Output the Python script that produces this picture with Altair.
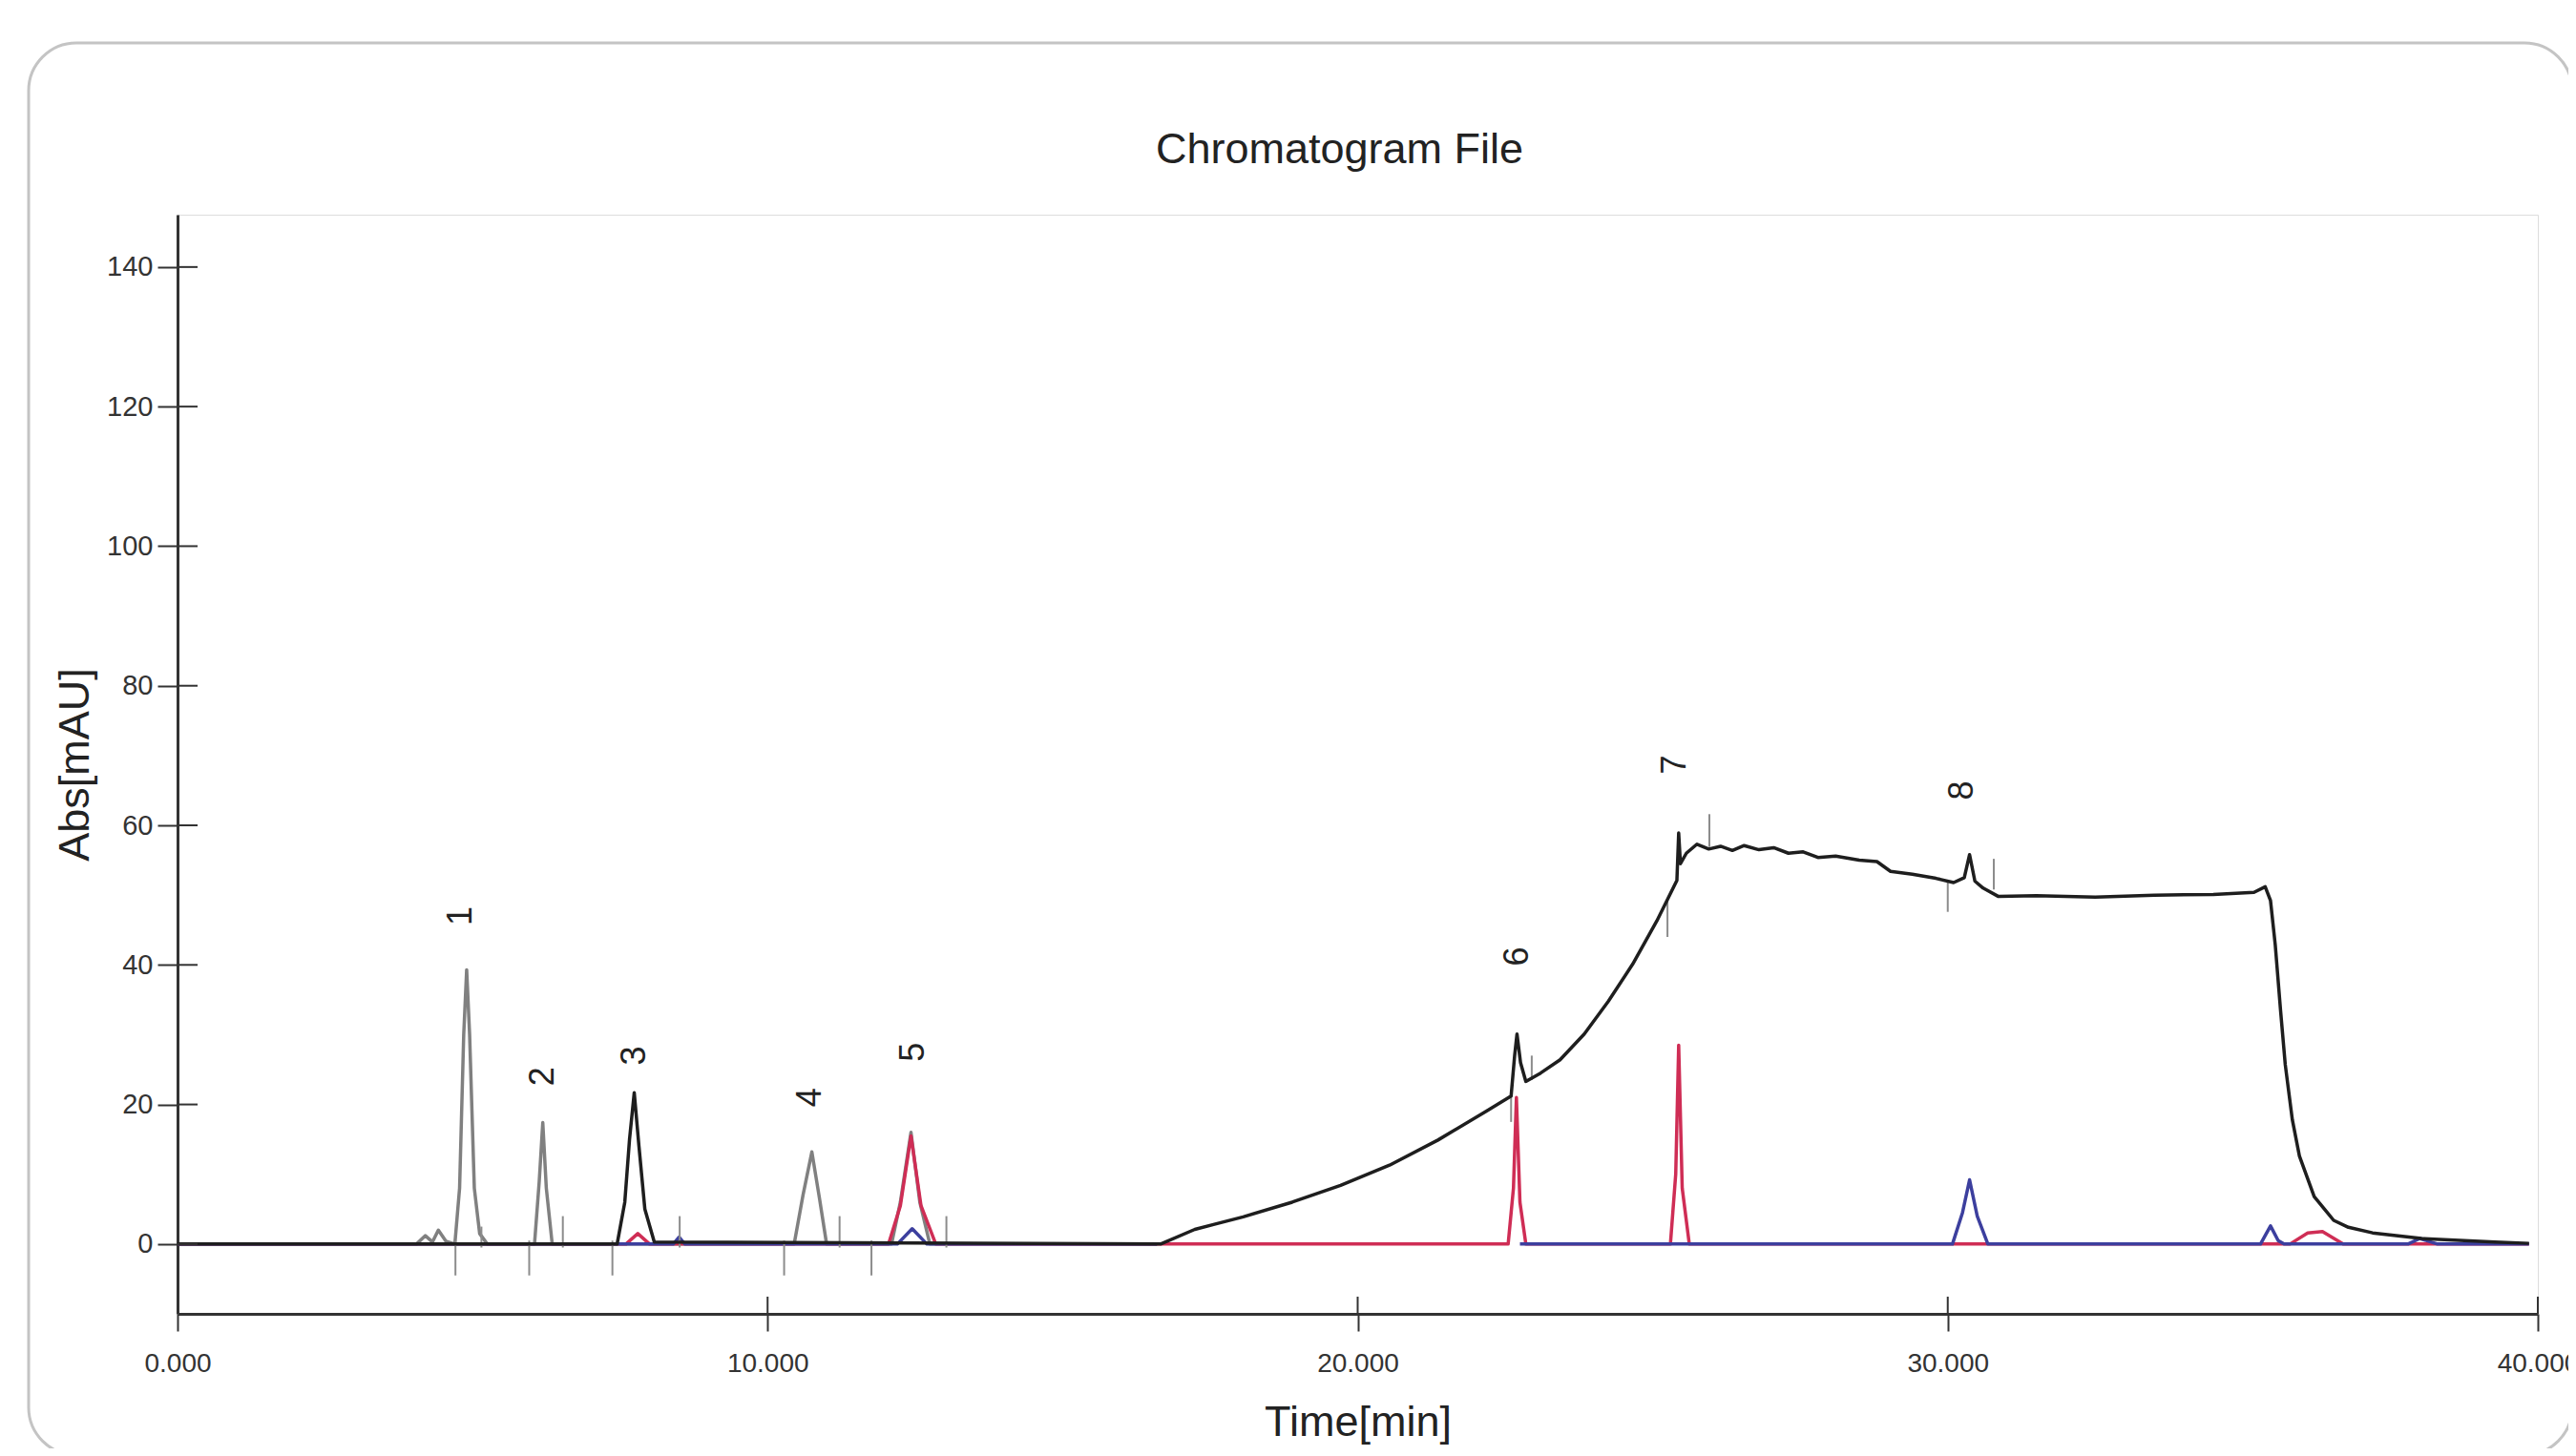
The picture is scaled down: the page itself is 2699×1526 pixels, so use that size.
import altair as alt
import pandas as pd

# ---------------- data ----------------
black_t = [0.0, 7.45, 7.58, 7.66, 7.74, 7.82, 7.92, 8.08, 16.66, 17.24, 18.06, 18.89, 19.71,
           20.54, 21.36, 22.19, 22.60, 22.66, 22.70, 22.76, 22.85, 23.10, 23.43, 23.84, 24.25,
           24.66, 25.07, 25.41, 25.44, 25.47, 25.57, 25.75, 25.95, 26.15, 26.35, 26.55, 26.80,
           27.05, 27.30, 27.55, 27.80, 28.10, 28.50, 28.80, 29.03, 29.40, 29.80, 30.10, 30.28,
           30.37, 30.46, 30.60, 30.86, 31.5, 32.5, 33.5, 34.5, 35.19, 35.38, 35.47, 35.55, 35.64,
           35.72, 35.84, 35.96, 36.21, 36.54, 36.79, 37.20, 38.03, 39.27, 39.85]
black_v = [0.0, 0.0, 6.0, 15.0, 21.7, 14.0, 5.0, 0.3, 0.0, 2.1, 3.9, 6.0, 8.4,
           11.3, 14.9, 19.1, 21.2, 27.0, 30.1, 26.0, 23.3, 24.5, 26.4, 30.1, 34.8,
           40.1, 46.3, 52.1, 58.9, 54.5, 56.0, 57.3, 56.6, 57.0, 56.4, 57.1, 56.5,
           56.8, 56.0, 56.2, 55.4, 55.6, 55.0, 54.8, 53.4, 53.0, 52.4, 51.8, 52.5,
           55.8, 52.0, 51.0, 49.8, 49.9, 49.7, 50.0, 50.1, 50.4, 51.2, 49.2, 42.9, 33.5,
           25.7, 17.8, 12.6, 6.8, 3.4, 2.4, 1.6, 0.8, 0.3, 0.1]

gray_t = [0.0, 4.05, 4.2, 4.32, 4.42, 4.55, 4.7, 4.78, 4.85, 4.90, 4.95, 5.03, 5.12, 5.25,
          6.05, 6.13, 6.19, 6.25, 6.35, 10.45, 10.6, 10.75, 10.88, 11.0, 12.1, 12.25, 12.43,
          12.58, 12.75, 16.6]
gray_v = [0.0, 0.0, 1.2, 0.3, 2.0, 0.4, 0.0, 8.0, 30.0, 39.3, 30.0, 8.0, 1.5, 0.0,
          0.0, 9.0, 17.4, 8.0, 0.0, 0.0, 7.0, 13.2, 6.5, 0.0, 0.0, 6.0, 16.0,
          6.0, 0.0, 0.0]

red_t = [0.0, 7.6, 7.8, 8.0, 12.05, 12.25, 12.43, 12.6, 12.85, 22.55, 22.64, 22.69, 22.75,
         22.85, 25.30, 25.39, 25.44, 25.50, 25.62, 35.8, 36.1, 36.35, 36.7, 39.85]
red_v = [0.0, 0.0, 1.5, 0.0, 0.0, 5.5, 15.5, 5.5, 0.0, 0.0, 8.0, 21.0, 6.0,
         0.0, 0.0, 10.0, 28.5, 8.0, 0.0, 0.0, 1.6, 1.8, 0.0, 0.0]

# blue trace: two recorded segments (none between 16.6 and 22.75 min)
blue_t = [0.0, 8.4, 8.5, 8.6, 12.2, 12.45, 12.7, 16.6,
          22.75, 30.08, 30.25, 30.37, 30.5, 30.68, 35.3, 35.47, 35.6, 35.7, 37.8, 38.0,
          38.3, 39.85]
blue_v = [0.0, 0.0, 1.0, 0.0, 0.0, 2.2, 0.0, 0.0,
          0.0, 0.0, 4.5, 9.2, 4.0, 0.0, 0.0, 2.6, 0.5, 0.0, 0.0, 0.8,
          0.0, 0.0]
blue_seg = [1] * 8 + [2] * 14

# peak integration markers (time, from, to)
marker_t = [4.71, 5.15, 5.96, 6.53, 7.37, 8.51, 10.28, 11.22, 11.76, 13.03,
            22.60, 22.95, 25.25, 25.96, 30.00, 30.78]
marker_y1 = [0.5, -0.5, 0.5, -0.5, 0.5, -0.5, 0.5, -0.5, 0.5, -0.5,
             21.2, 23.5, 49.5, 56.9, 51.8, 55.2]
marker_y2 = [-4.5, 2.5, -4.5, 4.0, -4.5, 4.0, -4.5, 4.0, -4.5, 4.0,
             17.5, 27.0, 44.0, 61.6, 47.6, 50.8]

# peak labels
label_text = ["1", "2", "3", "4", "5", "6", "7", "8"]
label_t = [4.81, 6.20, 7.74, 10.72, 12.47, 22.71, 25.38, 30.25]
label_v = [47.0, 24.0, 27.0, 21.0, 27.5, 41.2, 68.7, 65.0]

x_ticks = [0, 10, 20, 30, 40]
y_ticks = [0, 20, 40, 60, 80, 100, 120, 140]

# ---------------- chart ----------------
W, H = 2473, 1152
FONT = "Liberation Sans, Arial, sans-serif"

xs = alt.Scale(domain=[0, 40], nice=False, zero=False)
ys = alt.Scale(domain=[-10, 147.5], nice=False, zero=False)

x_axis = alt.Axis(values=x_ticks, format=".3f", title="Time[min]", grid=False,
                  tickSize=18, tickWidth=2, tickColor="#333", labelPadding=20,
                  domainWidth=3, domainColor="#333", labelFlush=False,
                  labelFont=FONT, labelFontSize=28, labelColor="#333",
                  titleFont=FONT, titleFontSize=45, titleFontWeight="normal",
                  titleColor="#222", titlePadding=25)
y_axis = alt.Axis(values=y_ticks, format="d", title="Abs[mAU]", grid=False,
                  tickSize=21, tickWidth=2, tickColor="#333", labelPadding=5,
                  domainWidth=3, domainColor="#333", labelFlush=False,
                  labelFont=FONT, labelFontSize=29, labelColor="#333",
                  titleFont=FONT, titleFontSize=45, titleFontWeight="normal",
                  titleColor="#222", titlePadding=10)

X = alt.X("t:Q", scale=xs, axis=x_axis)
Y = alt.Y("v:Q", scale=ys, axis=y_axis)


def line(frame_df, color, width=3.5, detail=None):
    enc = dict(x=X, y=Y)
    if detail:
        enc["detail"] = detail
    return alt.Chart(frame_df).mark_line(color=color, strokeWidth=width,
                                         strokeJoin="round").encode(**enc)


frame = alt.Chart(pd.DataFrame({"a": [0]})).mark_rect(
    filled=False, stroke="#c4c4c4", strokeWidth=3, cornerRadius=50
).encode(x=alt.value(-156), x2=alt.value(2509), y=alt.value(-180), y2=alt.value(1300))

markers = alt.Chart(pd.DataFrame({"t": marker_t, "y1": marker_y1, "y2": marker_y2})).mark_rule(
    color="#8c8c8c", strokeWidth=2
).encode(x=X, y=alt.Y("y1:Q", scale=ys, axis=y_axis), y2="y2:Q")

labels = alt.Chart(pd.DataFrame({"t": label_t, "v": label_v, "s": label_text})).mark_text(
    angle=270, font=FONT, fontSize=36, color="#222", align="center", baseline="middle"
).encode(x=X, y=Y, text="s:N")

y_in = alt.Chart(pd.DataFrame({"v": y_ticks})).mark_rule(color="#333", strokeWidth=2).encode(
    y=Y, x=alt.value(0), x2=alt.value(21))
x_in = alt.Chart(pd.DataFrame({"t": x_ticks})).mark_rule(color="#333", strokeWidth=2).encode(
    x=X, y=alt.value(H), y2=alt.value(H - 18))

chart = alt.layer(
    frame,
    line(pd.DataFrame({"t": gray_t, "v": gray_v}), "#808080"),
    line(pd.DataFrame({"t": red_t, "v": red_v}), "#cf2d55"),
    line(pd.DataFrame({"t": blue_t, "v": blue_v, "seg": blue_seg}), "#3c3f9e", detail="seg:N"),
    markers,
    line(pd.DataFrame({"t": black_t, "v": black_v}), "#1e1e1e"),
    labels,
    y_in,
    x_in,
).properties(
    width=W,
    height=H,
    autosize=alt.AutoSizeParams(type="none"),
    padding={"left": 178, "top": 217, "right": 32, "bottom": 141},
    # the decorative frame reaches above the plot, so the offset is measured from its top edge
    title=alt.TitleParams("Chromatogram File", font=FONT, fontSize=45, fontWeight="normal",
                          color="#222", anchor="middle", baseline="alphabetic", offset=-172,
                          dx=-19),
).configure_view(stroke=None).configure(background="white")

chart.save("out.html", embed_options={"renderer": "svg", "actions": False})
